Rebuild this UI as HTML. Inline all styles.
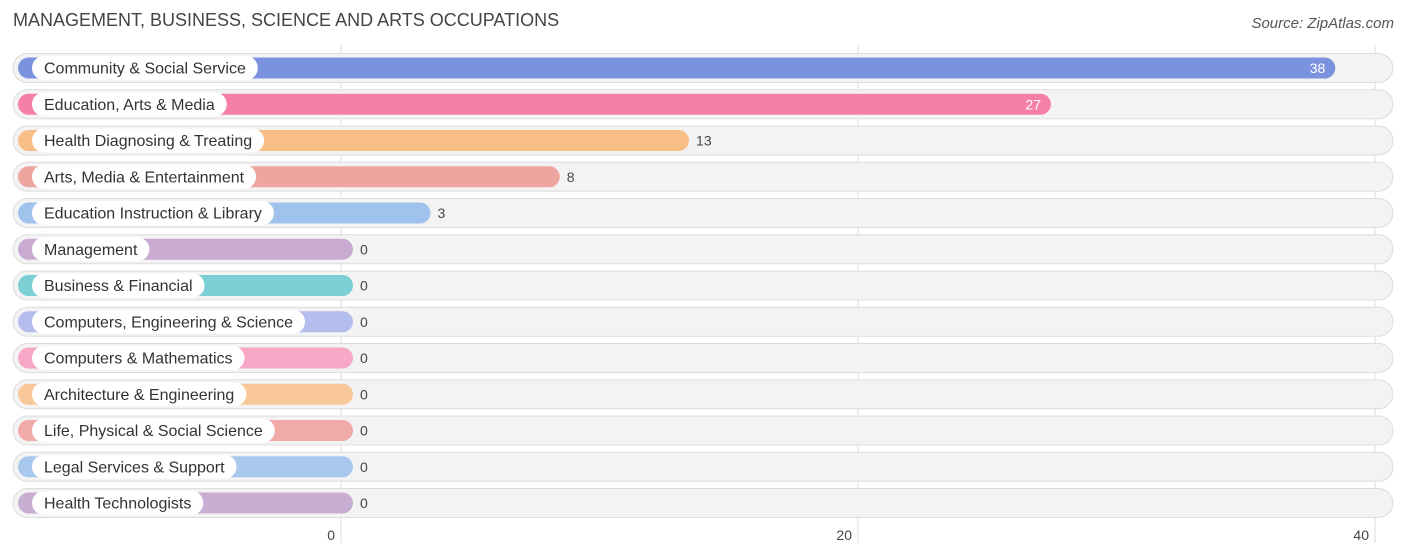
<!DOCTYPE html>
<html><head><meta charset="utf-8"><style>
body{margin:0;width:1406px;height:559px;background:#fff;font-family:"Liberation Sans",sans-serif;overflow:hidden;position:relative}
.t{position:absolute;left:13px;top:10px;font-size:18px;color:#444}
.s{position:absolute;right:12px;top:15px;font-size:15px;color:#555;font-style:italic}
</style></head><body>
<div class="t">MANAGEMENT, BUSINESS, SCIENCE AND ARTS OCCUPATIONS</div>
<div class="s">Source: ZipAtlas.com</div>
<svg id="c" width="1406" height="559" style="position:absolute;left:0;top:0"></svg>
<script>
const categories=["Community & Social Service","Education, Arts & Media","Health Diagnosing & Treating","Arts, Media & Entertainment","Education Instruction & Library","Management","Business & Financial","Computers, Engineering & Science","Computers & Mathematics","Architecture & Engineering","Life, Physical & Social Science","Legal Services & Support","Health Technologists"];
const values=[38,27,13,8,3,0,0,0,0,0,0,0,0];
const colors=["#7b93de","#f67fa6","#f9be86","#eda69f","#9fc3ec","#c9abd2","#7ccfd4","#b4bdee","#f7a8c7","#f9c899","#f0aaa8","#a9c8ee","#c8aed3"];
const ticks=[0,20,40];
const NS="http://www.w3.org/2000/svg";
const svg=document.getElementById('c');
const x=v=>341+v*25.85;
const y=i=>68+i*36.25;
function mk(t,a){const e=document.createElementNS(NS,t);for(const k in a)e.setAttribute(k,a[k]);svg.appendChild(e);return e;}
ticks.forEach(t=>{
 const l=mk('line',{x1:x(t),x2:x(t),y1:45,y2:543,stroke:'#ddd','stroke-width':1});
 
 
});
const tmp=document.createElementNS(NS,'text');
categories.forEach((c,i)=>{
 const cy=y(i);
 const bg=mk('rect',{x:13,y:cy-14.5,width:1380,height:29,rx:14.5,fill:'#f3f3f3',stroke:'#ddd','stroke-width':1});
 
 
 const bw=x(values[i])+12-18;
 const b=mk('rect',{x:18,y:cy-10.5,width:bw,height:21,rx:10.5,fill:colors[i]});
 
 
 const lt=mk('text',{x:44,y:cy+5.5,'font-size':16,fill:'#333'});
 lt.textContent=c;
 const w=lt.getComputedTextLength();
 const p=mk('rect',{x:32,y:cy-12,width:w+24,height:24,rx:12,fill:'#fff'});
 
 
 svg.appendChild(lt);
 
 
 const inside=values[i]>20;
 const vt=mk('text',{x:inside?x(values[i])+12-10:x(values[i])+12+7,y:cy+5,'font-size':14,fill:inside?'#fff':'#444','text-anchor':inside?'end':'start'});
 vt.textContent=values[i];
 
 
});
ticks.forEach(t=>{
 const tl=mk('text',{x:x(t)-6,y:540,'font-size':14,fill:'#444','text-anchor':'end'});
 tl.textContent=t;
 
 
});
</script>
</body></html>
